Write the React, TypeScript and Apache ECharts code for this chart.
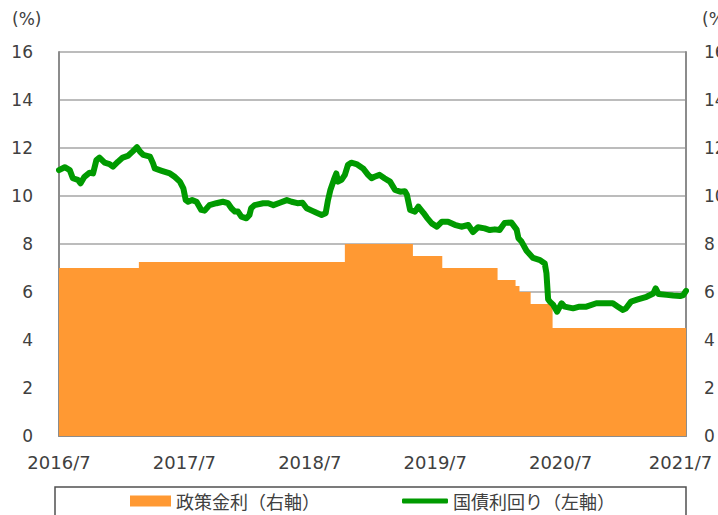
import React, { useEffect, useRef } from "react";
import * as echarts from "echarts";

const xTickLabels = ["2016/7", "2017/7", "2018/7", "2019/7", "2020/7", "2021/7"];
const seriesNames = ["政策金利（右軸）", "国債利回り（左軸）"];

const rateDates = [
  "2016-07-01", "2017-02-19", "2018-10-12", "2019-04-27", "2019-07-22",
  "2019-12-31", "2020-02-21", "2020-03-03", "2020-04-05", "2020-06-08", "2021-07-01",
];
const rateValues = [7.0, 7.25, 8.0, 7.5, 7.0, 6.5, 6.25, 6.0, 5.5, 4.5, 4.5];

const yieldDates = [
  "2016-07-01", "2016-07-18", "2016-08-02", "2016-08-11", "2016-08-26", "2016-09-03",
  "2016-09-14", "2016-09-29", "2016-10-09", "2016-10-19", "2016-10-28", "2016-11-12",
  "2016-11-26", "2016-12-06", "2016-12-21", "2017-01-04", "2017-01-19", "2017-02-02",
  "2017-02-14", "2017-02-22", "2017-03-03", "2017-03-23", "2017-04-01", "2017-04-06",
  "2017-04-26", "2017-05-20", "2017-06-03", "2017-06-18", "2017-06-28", "2017-07-05",
  "2017-07-12", "2017-07-24", "2017-08-06", "2017-08-20", "2017-08-30", "2017-09-13",
  "2017-10-03", "2017-10-22", "2017-11-06", "2017-11-16", "2017-11-26", "2017-12-05",
  "2017-12-15", "2017-12-30", "2018-01-08", "2018-01-13", "2018-01-23", "2018-02-16",
  "2018-03-02", "2018-03-17", "2018-04-05", "2018-04-25", "2018-05-09", "2018-05-26",
  "2018-06-10", "2018-06-22", "2018-07-07", "2018-07-21", "2018-08-05", "2018-08-17",
  "2018-08-24", "2018-08-31", "2018-09-10", "2018-09-17", "2018-09-22", "2018-10-02",
  "2018-10-12", "2018-10-21", "2018-10-31", "2018-11-15", "2018-12-04", "2018-12-19",
  "2018-12-29", "2019-01-07", "2019-01-22", "2019-02-05", "2019-02-20", "2019-03-06",
  "2019-03-21", "2019-04-04", "2019-04-10", "2019-04-19", "2019-05-03", "2019-05-13",
  "2019-05-28", "2019-06-07", "2019-06-21", "2019-07-06", "2019-07-21", "2019-08-08",
  "2019-08-28", "2019-09-16", "2019-10-06", "2019-10-20", "2019-11-04", "2019-11-23",
  "2019-12-08", "2019-12-23", "2020-01-06", "2020-01-21", "2020-02-09", "2020-02-24",
  "2020-02-29", "2020-03-09", "2020-03-24", "2020-04-12", "2020-05-02", "2020-05-16",
  "2020-05-21", "2020-05-26", "2020-05-31", "2020-06-10", "2020-06-21", "2020-07-04",
  "2020-07-13", "2020-08-07", "2020-08-26", "2020-09-15", "2020-10-14", "2020-11-12",
  "2020-12-01", "2020-12-16", "2020-12-31", "2021-01-09", "2021-01-24", "2021-02-12",
  "2021-03-08", "2021-03-28", "2021-04-04", "2021-04-12", "2021-05-06", "2021-05-25",
  "2021-06-14", "2021-06-23", "2021-07-01",
];
const yieldValues = [
  11.08, 11.2, 11.08, 10.74, 10.67, 10.53,
  10.8, 10.97, 10.94, 11.5, 11.6, 11.39,
  11.33, 11.22, 11.43, 11.6, 11.67, 11.85,
  12.03, 11.85, 11.71, 11.64, 11.36, 11.15,
  11.05, 10.94, 10.8, 10.6, 10.32, 9.83,
  9.76, 9.83, 9.76, 9.42, 9.39, 9.62,
  9.7, 9.76, 9.7, 9.49, 9.35, 9.35,
  9.14, 9.07, 9.21, 9.49, 9.62, 9.7,
  9.7, 9.62, 9.72, 9.83, 9.76, 9.7,
  9.72, 9.49, 9.39, 9.3, 9.21, 9.28,
  9.83, 10.25, 10.67, 10.94, 10.6, 10.67,
  10.88, 11.29, 11.39, 11.33, 11.15, 10.88,
  10.74, 10.8, 10.88, 10.74, 10.6, 10.25,
  10.18, 10.2, 10.04, 9.42, 9.35, 9.56,
  9.3, 9.1, 8.86, 8.72, 8.93, 8.93,
  8.8, 8.72, 8.79, 8.5, 8.7, 8.65,
  8.58, 8.61, 8.58, 8.88, 8.9, 8.6,
  8.24, 8.1, 7.72, 7.42, 7.33, 7.19,
  6.78, 5.7, 5.6, 5.46, 5.18, 5.53,
  5.39, 5.32, 5.39, 5.39, 5.53, 5.53,
  5.53, 5.39, 5.25, 5.32, 5.6, 5.69,
  5.8, 5.94, 6.15, 5.92, 5.88, 5.85,
  5.83, 5.87, 6.05,
];

// months elapsed since 2016/7/1
function toMonths(s: string): number {
  const [y, m, d] = s.split("-").map(Number);
  const dim = new Date(y, m, 0).getDate();
  return (y - 2016) * 12 + (m - 7) + (d - 1) / dim;
}

const LABEL_FONT = "'DejaVu Sans', Verdana, sans-serif";
const CJK_FONT = "'Noto Sans CJK JP', sans-serif";
const TEXT_COLOR = "#404040";
const AXIS_COLOR = "#8c8c8c";

export default function App() {
  const ref = useRef<HTMLDivElement>(null);

  useEffect(() => {
    if (!ref.current) return;
    const chart = echarts.init(ref.current, undefined, { renderer: "svg" });

    const rateData = rateDates.map((d, i) => [toMonths(d), rateValues[i]]);
    const yieldData = yieldDates.map((d, i) => [toMonths(d), yieldValues[i]]);

    chart.setOption({
      animation: false,
      backgroundColor: "#ffffff",
      grid: {
        left: 59,
        right: 32,
        top: 52,
        bottom: 79,
        containLabel: false,
        outerBoundsMode: "none",
      },
      xAxis: {
        type: "value",
        min: 0,
        max: 60,
        interval: 12,
        axisLine: { show: true, lineStyle: { color: AXIS_COLOR, width: 2 } },
        axisTick: { show: true, inside: true, length: 6, lineStyle: { color: AXIS_COLOR, width: 1.5 } },
        splitLine: { show: false },
        axisLabel: {
          margin: 17,
          color: TEXT_COLOR,
          fontFamily: LABEL_FONT,
          fontSize: 18,
          showMinLabel: true,
          showMaxLabel: true,
          hideOverlap: false,
          formatter: (v: number) => {
            const i = Math.round(v / 12);
            if (i === xTickLabels.length - 1) return "{last|" + xTickLabels[i] + "}";
            return xTickLabels[i] ?? "";
          },
          rich: {
            last: {
              color: TEXT_COLOR,
              fontFamily: LABEL_FONT,
              fontSize: 18,
              padding: [0, 11, 0, 0],
            },
          },
        },
      },
      yAxis: [
        {
          type: "value",
          min: 0,
          max: 16,
          interval: 2,
          position: "left",
          axisLine: { show: true, lineStyle: { color: AXIS_COLOR, width: 2 } },
          axisTick: { show: false },
          splitLine: { show: true, lineStyle: { color: "#a6a6a6", width: 1.5 } },
          axisLabel: { margin: 26, color: TEXT_COLOR, fontFamily: LABEL_FONT, fontSize: 17 },
        },
        {
          type: "value",
          min: 0,
          max: 16,
          interval: 2,
          position: "right",
          axisLine: { show: true, lineStyle: { color: AXIS_COLOR, width: 2 } },
          axisTick: { show: false },
          splitLine: { show: false },
          axisLabel: { margin: 18, color: TEXT_COLOR, fontFamily: LABEL_FONT, fontSize: 17 },
        },
      ],
      legend: [
        {
          data: [{ name: seriesNames[0], icon: "rect" }],
          left: 130,
          top: 492,
          itemWidth: 41,
          itemHeight: 11,
          itemGap: 0,
          padding: 0,
          textStyle: { color: TEXT_COLOR, fontFamily: CJK_FONT, fontSize: 18 },
        },
        {
          data: [{ name: seriesNames[1], icon: "roundRect" }],
          left: 402,
          top: 492,
          itemWidth: 46,
          itemHeight: 5,
          itemGap: 0,
          padding: 0,
          textStyle: { color: TEXT_COLOR, fontFamily: CJK_FONT, fontSize: 18 },
        },
      ],
      graphic: [
        {
          type: "rect",
          shape: { x: 55, y: 487, width: 631, height: 60 },
          style: { fill: "none", stroke: "#505050", lineWidth: 1.5 },
          silent: true,
        },
        {
          type: "text",
          x: 12,
          y: 10,
          style: { text: "(%)", fill: TEXT_COLOR, font: "17px " + LABEL_FONT },
        },
        {
          type: "text",
          x: 702,
          y: 10,
          style: { text: "(%)", fill: TEXT_COLOR, font: "17px " + LABEL_FONT },
        },
      ],
      series: [
        {
          name: seriesNames[0],
          type: "line",
          yAxisIndex: 1,
          step: "end",
          data: rateData,
          symbol: "none",
          lineStyle: { width: 0, color: "#ff9933" },
          itemStyle: { color: "#ff9933" },
          areaStyle: { color: "#ff9933", opacity: 1 },
          z: 2,
        },
        {
          name: seriesNames[1],
          type: "line",
          yAxisIndex: 0,
          data: yieldData,
          symbol: "none",
          lineStyle: { width: 6, color: "#009a00", cap: "round", join: "round" },
          itemStyle: { color: "#009a00" },
          z: 3,
        },
      ],
    });

    return () => chart.dispose();
  }, []);

  return (
    <div
      ref={ref}
      style={{ position: "absolute", left: 0, top: 0, width: 718, height: 515 }}
    />
  );
}
